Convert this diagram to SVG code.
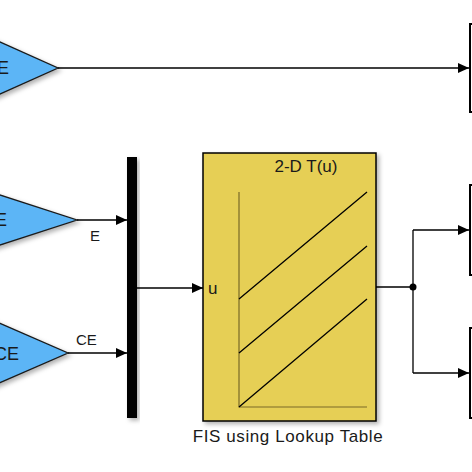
<svg xmlns="http://www.w3.org/2000/svg" width="472" height="472" viewBox="0 0 472 472">
<style>
text{font-family:"Liberation Sans",Arial,sans-serif;fill:#1a1a1a}
.gain{fill:#5cb5f6;stroke:#1a1a1a;stroke-width:1.3}
.gt{font-size:18px;text-anchor:end}
.lbl{font-size:15px}
.wire{fill:none;stroke:#000;stroke-width:1.3}
.port{fill:#fff;stroke:#000;stroke-width:2}
</style>
<defs>
<filter id="sh" x="-20%" y="-20%" width="150%" height="150%">
<feDropShadow dx="2.5" dy="2.5" stdDeviation="2" flood-color="#000" flood-opacity="0.3"/>
</filter>
<marker id="ar" markerWidth="11" markerHeight="10" refX="11" refY="5" orient="auto" markerUnits="userSpaceOnUse">
<path d="M0,0 L11,5 L0,10 Z" fill="#000"/>
</marker>
</defs>
<rect width="472" height="472" fill="#fff"/>

<g id="gain1">
<polygon class="gain" filter="url(#sh)" points="-40,24 58,68 -40,112"/>
<text class="gt" x="9" y="74">E</text>
</g>
<g id="gain2">
<polygon class="gain" filter="url(#sh)" points="-40,182 77,220 -40,258"/>
<text class="gt" x="7" y="226">E</text>
</g>
<g id="gain3">
<polygon class="gain" filter="url(#sh)" points="-40,306 68,353 -40,400"/>
<text class="gt" x="19" y="360">CE</text>
</g>

<g id="mux">
<rect x="127" y="157" width="10" height="261" fill="#000" filter="url(#sh)"/>
</g>

<g id="lookup">
<rect x="203" y="153" width="173" height="268" fill="#e6cf55" stroke="#000" stroke-width="1.5" filter="url(#sh)"/>
<text x="306" y="172" font-size="17" text-anchor="middle">2-D T(u)</text>
<path d="M239,192 V407 H367" fill="none" stroke="#7a6a28" stroke-width="1.2"/>
<path d="M239,299 L367,192 M239,353 L367,246 M239,407 L367,299" fill="none" stroke="#000" stroke-width="1.3"/>
<text x="208" y="294" font-size="17">u</text>
<text x="288" y="442" font-size="17" letter-spacing="0.6" text-anchor="middle">FIS using Lookup Table</text>
</g>

<g id="out1"><rect class="port" x="470" y="24" width="12" height="88"/></g>
<g id="out2"><rect class="port" x="470" y="185" width="12" height="90"/></g>
<g id="out3"><rect class="port" x="470" y="328" width="12" height="90"/></g>

<g id="connectors">
<path class="wire" d="M58,68 H469" marker-end="url(#ar)"/>
<path class="wire" d="M77,220 H127" marker-end="url(#ar)"/>
<text x="90" y="241" class="lbl">E</text>
<path class="wire" d="M68,353 H127" marker-end="url(#ar)"/>
<text x="76" y="345" class="lbl">CE</text>
<path class="wire" d="M137,288 H203" marker-end="url(#ar)"/>
<path class="wire" d="M376,287 H413 M413,230 V373"/>
<path class="wire" d="M413,230 H469" marker-end="url(#ar)"/>
<path class="wire" d="M413,373 H469" marker-end="url(#ar)"/>
<circle cx="413" cy="287" r="3.5" fill="#000"/>
</g>
</svg>
